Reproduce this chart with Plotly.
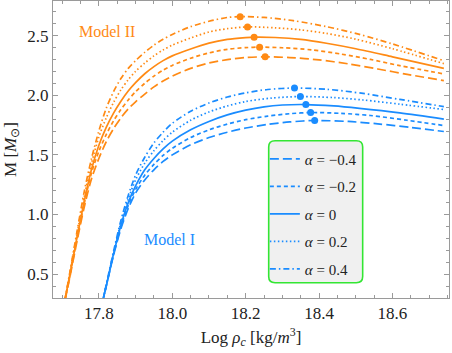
import plotly.graph_objects as go

# ---------------- data ----------------
alpha_labels = ["−0.4", "−0.2", "0", "0.2", "0.4"]

# Model II (orange): log10 rho_c and M/Msun for each alpha
m2_x_n04 = [17.70, 17.72, 17.74, 17.76, 17.78, 17.80, 17.82, 17.84, 17.86, 17.88, 17.90, 17.925, 17.95, 17.975, 18.00, 18.05, 18.10, 18.15, 18.20, 18.253, 18.32, 18.40, 18.48, 18.56, 18.64, 18.74]
m2_M_n04 = [0.17, 0.46, 0.77, 1.06, 1.30, 1.47, 1.61, 1.72, 1.81, 1.885, 1.945, 2.01, 2.07, 2.12, 2.16, 2.225, 2.27, 2.298, 2.316, 2.322, 2.316, 2.296, 2.263, 2.22, 2.175, 2.123]
m2_x_n02 = [17.70, 17.72, 17.74, 17.76, 17.78, 17.80, 17.82, 17.84, 17.86, 17.88, 17.90, 17.925, 17.95, 17.975, 18.00, 18.05, 18.10, 18.15, 18.20, 18.238, 18.30, 18.38, 18.46, 18.54, 18.62, 18.74]
m2_M_n02 = [0.17, 0.47, 0.79, 1.09, 1.35, 1.53, 1.67, 1.785, 1.88, 1.96, 2.03, 2.10, 2.16, 2.21, 2.25, 2.31, 2.355, 2.385, 2.399, 2.403, 2.398, 2.38, 2.345, 2.30, 2.248, 2.179]
m2_x_0 = [17.70, 17.72, 17.74, 17.76, 17.78, 17.80, 17.82, 17.84, 17.86, 17.88, 17.90, 17.925, 17.95, 17.975, 18.00, 18.05, 18.10, 18.15, 18.20, 18.223, 18.28, 18.35, 18.42, 18.50, 18.60, 18.74]
m2_M_0 = [0.17, 0.48, 0.80, 1.11, 1.38, 1.58, 1.73, 1.85, 1.95, 2.035, 2.105, 2.18, 2.24, 2.29, 2.33, 2.388, 2.437, 2.468, 2.483, 2.487, 2.484, 2.468, 2.436, 2.39, 2.322, 2.225]
m2_x_p02 = [17.70, 17.72, 17.74, 17.76, 17.78, 17.80, 17.82, 17.84, 17.86, 17.88, 17.90, 17.925, 17.95, 17.975, 18.00, 18.05, 18.10, 18.15, 18.205, 18.28, 18.35, 18.42, 18.50, 18.60, 18.74]
m2_M_p02 = [0.16, 0.49, 0.83, 1.15, 1.43, 1.65, 1.81, 1.94, 2.045, 2.13, 2.20, 2.27, 2.33, 2.38, 2.42, 2.48, 2.53, 2.558, 2.573, 2.565, 2.548, 2.518, 2.47, 2.39, 2.265]
m2_x_p04 = [17.70, 17.72, 17.74, 17.76, 17.78, 17.80, 17.82, 17.84, 17.86, 17.88, 17.90, 17.925, 17.95, 17.975, 18.00, 18.05, 18.10, 18.15, 18.185, 18.25, 18.33, 18.42, 18.51, 18.60, 18.74]
m2_M_p04 = [0.16, 0.50, 0.85, 1.19, 1.47, 1.70, 1.89, 2.03, 2.14, 2.225, 2.29, 2.36, 2.42, 2.47, 2.51, 2.575, 2.62, 2.652, 2.659, 2.652, 2.625, 2.575, 2.51, 2.43, 2.29]
m2_peak_x = [18.253, 18.238, 18.223, 18.205, 18.185]
m2_peak_M = [2.322, 2.403, 2.487, 2.573, 2.659]

# Model I (blue)
m1_x_n04 = [17.80, 17.82, 17.84, 17.86, 17.88, 17.90, 17.925, 17.95, 17.975, 18.00, 18.05, 18.10, 18.15, 18.20, 18.26, 18.32, 18.388, 18.48, 18.56, 18.65, 18.74]
m1_M_n04 = [0.14, 0.395, 0.66, 0.88, 1.05, 1.18, 1.29, 1.375, 1.445, 1.50, 1.585, 1.645, 1.69, 1.725, 1.755, 1.776, 1.788, 1.78, 1.76, 1.73, 1.696]
m1_x_n02 = [17.80, 17.82, 17.84, 17.86, 17.88, 17.90, 17.925, 17.95, 17.975, 18.00, 18.05, 18.10, 18.15, 18.20, 18.26, 18.32, 18.377, 18.46, 18.54, 18.64, 18.74]
m1_M_n02 = [0.14, 0.40, 0.665, 0.895, 1.075, 1.21, 1.33, 1.42, 1.495, 1.555, 1.645, 1.71, 1.758, 1.795, 1.825, 1.845, 1.855, 1.848, 1.83, 1.79, 1.746]
m1_x_0 = [17.80, 17.82, 17.84, 17.86, 17.88, 17.90, 17.925, 17.95, 17.975, 18.00, 18.05, 18.10, 18.15, 18.20, 18.25, 18.30, 18.364, 18.44, 18.51, 18.62, 18.74]
m1_M_0 = [0.14, 0.40, 0.67, 0.91, 1.10, 1.24, 1.375, 1.47, 1.55, 1.615, 1.71, 1.78, 1.835, 1.875, 1.903, 1.918, 1.922, 1.91, 1.89, 1.852, 1.80]
m1_x_p02 = [17.80, 17.82, 17.84, 17.86, 17.88, 17.90, 17.925, 17.95, 17.975, 18.00, 18.05, 18.10, 18.15, 18.20, 18.27, 18.349, 18.44, 18.52, 18.62, 18.74]
m1_M_p02 = [0.14, 0.405, 0.68, 0.93, 1.13, 1.29, 1.43, 1.535, 1.62, 1.69, 1.79, 1.86, 1.91, 1.947, 1.976, 1.989, 1.98, 1.96, 1.925, 1.88]
m1_x_p04 = [17.80, 17.82, 17.84, 17.86, 17.88, 17.90, 17.925, 17.95, 17.975, 18.00, 18.05, 18.10, 18.15, 18.20, 18.26, 18.333, 18.42, 18.52, 18.62, 18.74]
m1_M_p04 = [0.14, 0.41, 0.69, 0.95, 1.16, 1.33, 1.48, 1.60, 1.69, 1.765, 1.865, 1.935, 1.985, 2.02, 2.048, 2.06, 2.05, 2.015, 1.965, 1.905]
m1_peak_x = [18.388, 18.377, 18.364, 18.349, 18.333]
m1_peak_M = [1.788, 1.855, 1.922, 1.989, 2.06]

x_tick_vals = [17.8, 18.0, 18.2, 18.4, 18.6]
x_tick_text = ["17.8", "18.0", "18.2", "18.4", "18.6"]
y_tick_vals = [0.5, 1.0, 1.5, 2.0, 2.5]
y_tick_text = ["0.5", "1.0", "1.5", "2.0", "2.5"]

# ---------------- style ----------------
ORANGE = "#ff8a14"
BLUE = "#1a8cff"
dashes = ["9px,4px", "4px,3px", "solid", "1.5px,2.5px", "6px,3px,1.5px,3px"]
FONT = "Liberation Serif"

fig = go.Figure()

m2_series = [(m2_x_n04, m2_M_n04), (m2_x_n02, m2_M_n02), (m2_x_0, m2_M_0),
             (m2_x_p02, m2_M_p02), (m2_x_p04, m2_M_p04)]
m1_series = [(m1_x_n04, m1_M_n04), (m1_x_n02, m1_M_n02), (m1_x_0, m1_M_0),
             (m1_x_p02, m1_M_p02), (m1_x_p04, m1_M_p04)]

for color, series in [(ORANGE, m2_series), (BLUE, m1_series)]:
    for (xs, ms), d in zip(series, dashes):
        fig.add_trace(go.Scatter(x=xs, y=ms, mode="lines",
                                 line=dict(color=color, width=1.7, dash=d, shape="spline", smoothing=0.8),
                                 showlegend=False, hoverinfo="skip"))

fig.add_trace(go.Scatter(x=m2_peak_x, y=m2_peak_M, mode="markers",
                         marker=dict(color=ORANGE, size=7), showlegend=False))
fig.add_trace(go.Scatter(x=m1_peak_x, y=m1_peak_M, mode="markers",
                         marker=dict(color=BLUE, size=7), showlegend=False))

# legend entries
for i, (lab, d) in enumerate(zip(alpha_labels, dashes)):
    fig.add_trace(go.Scatter(x=[None], y=[None], mode="lines",
                             line=dict(color=BLUE, width=1.7, dash=d),
                             name=f"<i>α</i> = {lab}", legendgroup=f"g{i}"))

axis_common = dict(showline=True, linecolor="#9a9a9a", linewidth=1, mirror="allticks",
                   ticks="inside", ticklen=5, tickcolor="#9a9a9a", tickwidth=1,
                   showgrid=False, zeroline=False, automargin=False,
                   tickfont=dict(family=FONT, size=17, color="#222"))

fig.update_layout(
    width=452, height=353,
    margin=dict(l=53, r=3, t=1, b=55),
    paper_bgcolor="white", plot_bgcolor="white",
    xaxis=dict(range=[17.675, 18.754], tickmode="array", tickvals=x_tick_vals, ticktext=x_tick_text,
               minor=dict(dtick=0.05, tick0=17.8, ticks="inside", ticklen=3, tickcolor="#9a9a9a"),
               title=dict(text="Log <i>ρ</i><sub><i>c</i></sub> [kg/<i>m</i><sup>3</sup>]",
                          font=dict(family=FONT, size=17, color="#222"), standoff=8),
               **axis_common),
    yaxis=dict(range=[0.3, 2.79], tickmode="array", tickvals=y_tick_vals, ticktext=y_tick_text,
               minor=dict(dtick=0.1, tick0=0.5, ticks="inside", ticklen=3, tickcolor="#9a9a9a"),
               title=dict(text="M [<i>M</i><sub>⊙</sub>]",
                          font=dict(family=FONT, size=17, color="#222"), standoff=6),
               **axis_common),
    legend=dict(x=0.535, y=0.523, xanchor="left", yanchor="top",
                bgcolor="rgba(0,0,0,0)", borderwidth=0,
                font=dict(family=FONT, size=15, color="#222"),
                tracegroupgap=5, traceorder="grouped", itemwidth=30),
    showlegend=True,
)

# rounded legend frame
x0, x1, y0, y1 = 0.5447, 0.782, 0.0515, 0.5296
rx, ry = 0.016, 0.021
path = (f"M {x0+rx},{y0} L {x1-rx},{y0} Q {x1},{y0} {x1},{y0+ry} "
        f"L {x1},{y1-ry} Q {x1},{y1} {x1-rx},{y1} L {x0+rx},{y1} Q {x0},{y1} {x0},{y1-ry} "
        f"L {x0},{y0+ry} Q {x0},{y0} {x0+rx},{y0} Z")
fig.add_shape(type="path", path=path, xref="paper", yref="paper",
              fillcolor="#f0f0f0", line=dict(color="#33e633", width=1.6), layer="below")

fig.add_annotation(x=17.821, y=2.534, text="Model II", showarrow=False,
                   font=dict(family=FONT, size=16, color=ORANGE))
fig.add_annotation(x=17.992, y=0.788, text="Model I", showarrow=False,
                   font=dict(family=FONT, size=16, color=BLUE))

fig.write_html("out.html", config={"displayModeBar": False},
               post_script="document.body.style.margin='0';document.body.style.overflow='hidden';")
